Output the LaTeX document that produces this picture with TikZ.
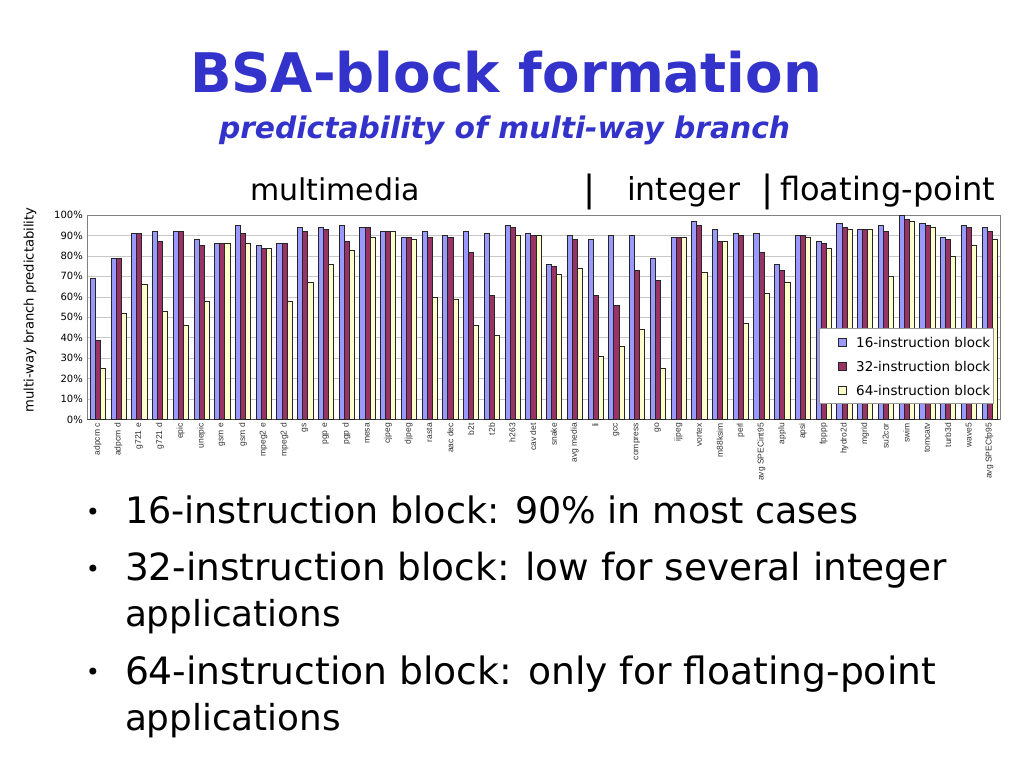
\documentclass[tikz,border=0pt]{standalone}
\usepackage{graphicx}
\usepackage{fontspec}
\setmainfont{DejaVu Sans}
\newfontfamily\lab{Liberation Sans}
\definecolor{titleblue}{RGB}{51,51,204}
\definecolor{c16}{RGB}{153,153,255}
\definecolor{c32}{RGB}{153,51,102}
\definecolor{c64}{RGB}{255,255,204}
\begin{document}
\begin{tikzpicture}[x=1pt,y=-1pt,
  txt/.style={inner sep=0pt,outer sep=0pt,anchor=base west},
  bar16/.style={fill=c16,draw=black!85,line width=0.4pt},
  bar32/.style={fill=c32,draw=black!85,line width=0.4pt},
  bar64/.style={fill=c64,draw=black!85,line width=0.4pt},
  gridline/.style={draw=black!22,line width=0.6pt},
  ylab/.style={inner sep=0pt,anchor=east,font=\fontsize{10}{12}\selectfont},
  xlab/.style={inner sep=0pt,anchor=east,rotate=90,font=\lab\fontsize{8.5}{9}\selectfont,text=black!80},
  legtxt/.style={inner sep=0pt,anchor=west},
  sepbar/.style={inner sep=0pt,anchor=base,font=\fontsize{36}{40}\selectfont},
  dot/.style={inner sep=0pt,font=\fontsize{24}{24}\selectfont},
]
\useasboundingbox (0,0) rectangle (1024,768);
\fill[white] (0,0) rectangle (1024,768);

% titles
\node[txt,text=titleblue] (title) at (190,92)
  {\resizebox{632pt}{!}{\fontsize{48}{56}\selectfont\bfseries BSA-block formation}};
\node[txt,text=titleblue] (subtitle) at (219,138)
  {\resizebox{571pt}{!}{\fontsize{24}{28}\selectfont\bfseries\itshape predictability of multi-way branch}};

% category headings
\node[txt] (catmm) at (250,200) {\resizebox{170pt}{!}{\fontsize{28}{32}\selectfont multimedia}};
\node[sepbar] (sep1) at (590,201) {|};
\node[txt] (catint) at (627,200) {\resizebox{113pt}{!}{\fontsize{28}{32}\selectfont integer}};
\node[sepbar] (sep2) at (768,201) {|};
\node[txt] (catfp) at (780,200) {\resizebox{215pt}{!}{\fontsize{28}{32}\selectfont floating-point}};

% grid and frame
\foreach \k in {1,...,9}
  \draw[gridline] (87.3,{419.5-20.45*\k}) -- (1000,{419.5-20.45*\k});
\draw[black!50,line width=0.6pt] (87.3,419.5) rectangle (1000,215);
\draw[black!70,line width=0.7pt] (87.3,419.5) -- (1000,419.5);

% y labels
\foreach \k in {0,...,10}
  \node[ylab] (yl\k) at (83,{419.5-20.45*\k}) {\number\numexpr\k*10\relax\%};
\node[inner sep=0pt,rotate=90] (ytitle) at (30,310)
  {\resizebox{205pt}{!}{\fontsize{12}{14}\selectfont multi-way branch predictability}};

% bars
\foreach \n/\a/\b/\c [count=\i from 0] in {
adpcm c/69/39/25,
adpcm d/79/79/52,
g721 e/91/91/66,
g721 d/92/87/53,
epic/92/92/46,
unepic/88/85/58,
gsm e/86/86/86,
gsm d/95/91/86,
mpeg2 e/85/84/84,
mpeg2 d/86/86/58,
gs/94/92/67,
pgp e/94/93/76,
pgp d/95/87/83,
mesa/94/94/89,
cjpeg/92/92/92,
djpeg/89/89/88,
rasta/92/89/60,
aac dec/90/89/59,
b2t/92/82/46,
t2b/91/61/41,
h263/95/94/90,
cav det/91/90/90,
snake/76/75/71,
avg media/90/88/74,
li/88/61/31,
gcc/90/56/36,
compress/90/73/44,
go/79/68/25,
ijpeg/89/89/89,
vortex/97/95/72,
m88ksim/93/87/87,
perl/91/90/47,
avg SPECint95/91/82/62,
applu/76/73/67,
apsi/90/90/89,
fpppp/87/86/84,
hydro2d/96/94/93,
mgrid/93/93/93,
su2cor/95/92/70,
swim/100/98/97,
tomcatv/96/95/94,
turb3d/89/88/80,
wave5/95/94/85,
avg SPECfp95/94/92/88}{
  \pgfmathsetmacro\gx{90+\i*20.74}
  \draw[bar16] (\gx,419.5) rectangle ({\gx+5.1},{419.5-2.045*\a});
  \draw[bar32] ({\gx+5.1},419.5) rectangle ({\gx+10.2},{419.5-2.045*\b});
  \draw[bar64] ({\gx+10.2},419.5) rectangle ({\gx+15.3},{419.5-2.045*\c});
  \node[xlab] (xl\i) at ({\gx+7.65},423) {\n};
}

% legend
\node[draw=black!40,fill=white,line width=0.5pt,minimum width=174pt,minimum height=75pt,inner sep=0pt,anchor=north west] (legend) at (819,328) {};
\draw[bar16] (838,338) rectangle (846,346);
\draw[bar32] (838,362) rectangle (846,370);
\draw[bar64] (838,386) rectangle (846,394);
\node[legtxt] (leg16) at (856,342) {\resizebox{134pt}{!}{\fontsize{12}{14}\selectfont 16-instruction block}};
\node[legtxt] (leg32) at (856,366) {\resizebox{134pt}{!}{\fontsize{12}{14}\selectfont 32-instruction block}};
\node[legtxt] (leg64) at (856,390) {\resizebox{134pt}{!}{\fontsize{12}{14}\selectfont 64-instruction block}};

% bullets
\node[dot] (d1) at (93,514) {•};
\node[dot] (d2) at (93,571) {•};
\node[dot] (d3) at (93,674) {•};
\node[txt] (l1) at (125,523) {\resizebox{733pt}{!}{\fontsize{36}{40}\selectfont 16-instruction block: 90\% in most cases}};
\node[txt] (l2) at (125,580) {\resizebox{822pt}{!}{\fontsize{36}{40}\selectfont 32-instruction block: low for several integer}};
\node[txt] (l2b) at (125,626) {\resizebox{216pt}{!}{\fontsize{36}{40}\selectfont applications}};
\node[txt] (l3) at (125,684) {\resizebox{811pt}{!}{\fontsize{36}{40}\selectfont 64-instruction block: only for floating-point}};
\node[txt] (l3b) at (125,730) {\resizebox{216pt}{!}{\fontsize{36}{40}\selectfont applications}};
\end{tikzpicture}
\end{document}
